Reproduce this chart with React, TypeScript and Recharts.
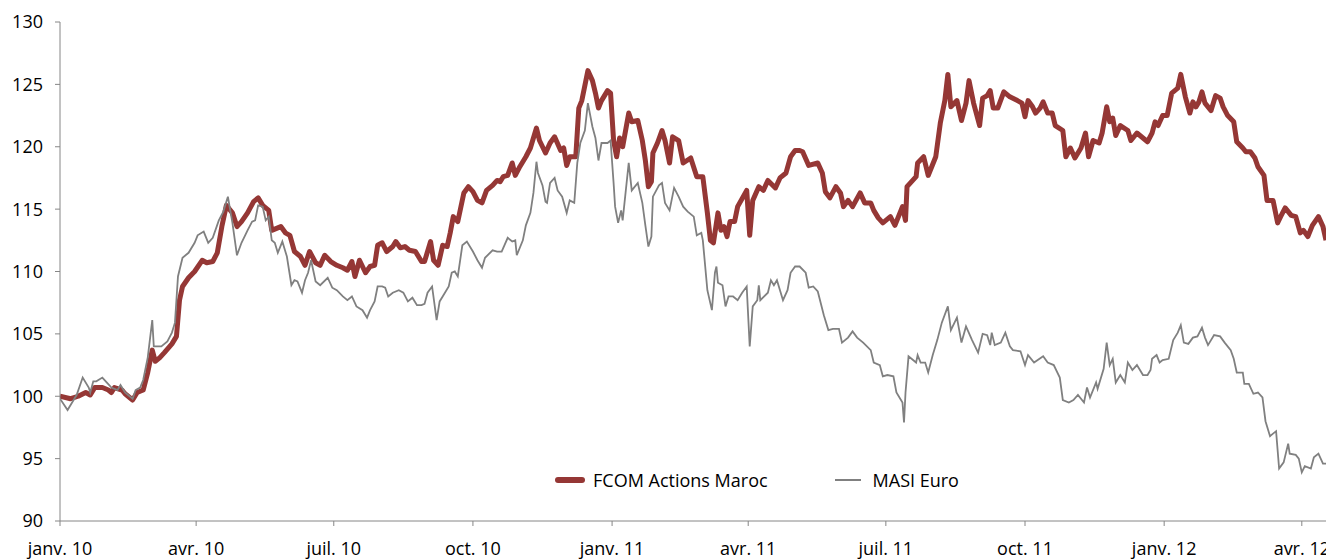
import React from 'react'
import { LineChart, Line, XAxis, YAxis, Legend } from 'recharts'

// jours écoulés depuis le 1er janvier 2010
const fcomDays = [0, 7, 12, 17, 20, 23, 28, 32, 34, 36, 41, 43, 46, 48, 51, 55, 58, 61, 63, 66, 69, 74, 77, 79, 81, 85, 89, 94, 97, 101, 104, 107, 110, 114, 117, 120, 124, 128, 131, 134, 138, 140, 144, 146, 149, 152, 155, 159, 162, 165, 169, 172, 175, 179, 183, 187, 190, 193, 195, 198, 202, 205, 208, 210, 213, 216, 220, 222, 225, 228, 231, 235, 239, 241, 245, 247, 250, 253, 256, 258, 260, 263, 267, 270, 273, 276, 279, 282, 286, 289, 291, 293, 296, 299, 301, 304, 308, 311, 315, 317, 321, 324, 327, 331, 333, 335, 337, 341, 343, 345, 349, 352, 354, 356, 358, 362, 364, 366, 368, 370, 372, 376, 378, 382, 385, 387, 389, 391, 392, 395, 398, 400, 403, 405, 409, 412, 417, 421, 425, 428, 430, 432, 435, 437, 439, 441, 443, 446, 448, 454, 456, 458, 462, 465, 468, 473, 476, 480, 483, 486, 489, 491, 495, 501, 504, 506, 509, 513, 516, 518, 521, 524, 529, 532, 536, 538, 541, 544, 549, 552, 557, 559, 560, 566, 567, 571, 574, 579, 582, 585, 587, 589, 593, 596, 599, 601, 604, 608, 610, 613, 615, 617, 620, 624, 628, 633, 636, 638, 640, 643, 645, 648, 650, 653, 656, 658, 663, 665, 668, 671, 675, 678, 680, 683, 687, 689, 692, 694, 696, 698, 701, 706, 708, 712, 716, 719, 722, 724, 726, 729, 732, 735, 739, 741, 744, 747, 749, 751, 753, 755, 757, 761, 764, 767, 769, 772, 776, 778, 782, 784, 787, 790, 792, 796, 798, 802, 805, 807, 810, 814, 817, 820, 822, 825, 828, 832, 835, 837]
const fcomValues = [100.0, 99.8, 100.0, 100.3, 100.1, 100.7, 100.7, 100.5, 100.3, 100.7, 100.5, 100.2, 99.9, 99.7, 100.3, 100.5, 101.9, 103.7, 102.8, 103.1, 103.5, 104.2, 104.8, 107.7, 108.8, 109.5, 110.0, 110.9, 110.7, 110.8, 111.5, 113.6, 115.3, 114.7, 113.6, 114.0, 114.7, 115.6, 115.9, 115.3, 114.9, 113.3, 113.5, 113.6, 113.1, 112.9, 111.6, 111.2, 110.5, 111.6, 110.7, 110.5, 111.3, 110.8, 110.5, 110.3, 110.1, 110.8, 109.6, 110.9, 109.9, 110.4, 110.5, 112.1, 112.3, 111.6, 112.0, 112.4, 111.9, 112.0, 111.7, 111.6, 110.8, 110.8, 112.4, 110.9, 110.5, 112.1, 112.0, 113.1, 114.4, 114.0, 116.3, 116.8, 116.4, 115.7, 115.5, 116.5, 116.9, 117.3, 117.2, 117.6, 117.7, 118.7, 117.7, 118.4, 119.2, 119.9, 121.5, 120.5, 119.5, 120.3, 120.8, 119.7, 119.9, 118.5, 119.2, 119.2, 123.1, 123.7, 126.1, 125.3, 124.3, 123.1, 123.7, 124.5, 124.3, 120.5, 119.2, 120.7, 120.0, 122.7, 122.0, 122.1, 120.5, 118.9, 116.8, 117.2, 119.5, 120.3, 121.3, 120.5, 118.7, 120.8, 120.5, 118.7, 119.1, 117.6, 117.6, 114.7, 112.5, 112.3, 114.7, 113.3, 113.6, 112.8, 114.0, 114.0, 115.2, 116.5, 112.9, 115.7, 116.8, 116.5, 117.3, 116.7, 117.5, 117.9, 119.2, 119.7, 119.7, 119.6, 118.5, 118.7, 117.9, 116.4, 115.9, 116.8, 116.3, 115.2, 115.7, 115.2, 116.3, 115.5, 115.5, 114.9, 114.3, 113.9, 114.4, 113.7, 115.2, 114.1, 116.8, 117.6, 118.7, 119.2, 117.7, 119.2, 121.9, 123.7, 125.8, 123.2, 123.7, 122.1, 123.5, 125.3, 123.5, 121.7, 123.9, 124.1, 124.5, 123.1, 123.1, 124.4, 124.0, 123.7, 123.5, 122.4, 123.7, 123.2, 122.7, 123.1, 123.6, 122.7, 122.7, 121.7, 121.3, 119.2, 119.9, 119.1, 119.9, 121.1, 119.2, 120.5, 120.3, 121.1, 123.2, 122.0, 122.3, 120.9, 121.7, 121.3, 120.5, 121.1, 120.7, 120.4, 121.1, 122.0, 121.7, 122.5, 122.5, 124.3, 124.7, 125.8, 124.0, 122.7, 123.6, 123.2, 123.6, 124.4, 123.5, 122.9, 124.1, 123.9, 123.2, 122.5, 122.0, 120.4, 119.9, 119.6, 119.6, 119.1, 118.4, 117.7, 115.7, 115.7, 113.9, 114.4, 115.1, 114.5, 114.4, 113.1, 113.3, 112.8, 113.7, 114.4, 113.6, 112.5]

const masiDays = [0, 5, 8, 11, 15, 19, 20, 22, 24, 28, 31, 34, 38, 40, 43, 48, 50, 53, 55, 58, 61, 62, 67, 71, 74, 76, 78, 81, 85, 89, 91, 95, 98, 101, 105, 108, 111, 114, 117, 120, 124, 127, 129, 131, 134, 136, 138, 140, 142, 144, 147, 150, 153, 155, 157, 160, 162, 164, 166, 169, 172, 177, 180, 183, 187, 190, 193, 196, 200, 203, 205, 208, 210, 213, 215, 217, 220, 224, 227, 230, 233, 236, 239, 241, 243, 246, 247, 249, 251, 253, 257, 259, 261, 263, 266, 269, 273, 276, 279, 281, 286, 289, 292, 296, 299, 301, 302, 306, 308, 311, 313, 315, 316, 319, 321, 322, 324, 327, 329, 332, 335, 337, 340, 342, 344, 347, 349, 352, 354, 356, 358, 362, 364, 366, 367, 369, 371, 372, 376, 378, 382, 385, 387, 389, 391, 392, 396, 398, 400, 403, 406, 409, 412, 415, 419, 421, 424, 425, 428, 431, 433, 434, 435, 438, 440, 442, 445, 448, 451, 454, 456, 458, 461, 462, 463, 468, 470, 472, 474, 478, 481, 483, 486, 489, 493, 495, 498, 501, 505, 508, 511, 515, 517, 521, 524, 527, 531, 536, 538, 542, 544, 547, 551, 553, 557, 558, 559, 561, 566, 567, 569, 572, 574, 577, 580, 583, 587, 589, 593, 596, 599, 603, 607, 610, 613, 615, 616, 618, 622, 625, 628, 630, 635, 638, 640, 644, 650, 653, 657, 661, 663, 667, 670, 673, 677, 679, 681, 685, 686, 690, 692, 694, 696, 698, 701, 704, 706, 709, 712, 716, 719, 721, 722, 725, 727, 729, 733, 736, 739, 741, 743, 746, 749, 752, 755, 757, 759, 763, 767, 770, 774, 776, 778, 782, 783, 786, 789, 792, 795, 797, 800, 804, 806, 809, 812, 813, 817, 819, 821, 823, 827, 829, 832, 835, 837]
const masiValues = [99.8, 98.9, 99.5, 100.1, 101.5, 100.7, 100.3, 101.2, 101.2, 101.5, 101.1, 100.7, 100.5, 100.9, 100.3, 99.8, 100.5, 100.7, 101.3, 103.1, 106.1, 104.0, 104.0, 104.4, 105.1, 105.9, 109.6, 111.1, 111.5, 112.3, 112.9, 113.2, 112.3, 112.7, 114.1, 114.8, 116.0, 113.9, 111.3, 112.3, 113.3, 114.0, 114.1, 115.3, 115.2, 114.1, 114.4, 112.5, 112.3, 111.5, 112.4, 111.2, 108.9, 109.3, 109.2, 108.3, 109.3, 109.9, 110.9, 109.2, 108.9, 109.5, 108.7, 108.5, 108.0, 107.7, 108.0, 107.2, 106.9, 106.3, 106.9, 107.6, 108.8, 108.8, 108.7, 108.0, 108.3, 108.5, 108.3, 107.6, 107.9, 107.3, 107.3, 107.4, 108.3, 108.8, 107.9, 106.1, 107.6, 108.0, 108.8, 109.9, 110.0, 109.6, 112.1, 112.4, 111.6, 110.9, 110.3, 111.1, 111.7, 111.6, 111.6, 112.7, 112.4, 112.5, 111.3, 112.5, 113.7, 114.7, 116.3, 118.8, 117.9, 116.9, 115.6, 115.5, 117.1, 117.5, 116.5, 116.0, 114.7, 115.7, 115.5, 118.7, 120.3, 121.3, 123.5, 121.6, 120.7, 118.9, 120.3, 120.3, 120.5, 117.1, 115.2, 113.9, 114.9, 114.1, 118.7, 116.5, 117.1, 115.5, 113.7, 112.0, 112.8, 116.0, 116.9, 117.1, 115.5, 114.9, 116.7, 116.0, 115.2, 114.8, 114.4, 112.9, 113.1, 112.5, 108.5, 106.9, 109.9, 110.4, 109.1, 108.9, 107.2, 108.0, 108.0, 107.7, 108.3, 108.8, 104.0, 107.2, 107.7, 108.9, 107.7, 108.3, 109.3, 108.9, 109.3, 107.7, 108.5, 109.9, 110.4, 110.4, 109.9, 108.7, 108.8, 108.4, 106.5, 105.3, 105.4, 105.4, 104.3, 104.7, 105.2, 104.7, 104.3, 103.7, 102.7, 102.5, 101.6, 101.7, 101.6, 100.3, 99.5, 97.9, 100.3, 103.2, 102.7, 103.3, 102.7, 102.7, 101.9, 103.3, 104.5, 105.9, 107.2, 105.3, 106.3, 104.3, 105.6, 104.5, 103.5, 105.0, 104.9, 104.1, 105.1, 104.1, 104.3, 105.1, 104.0, 103.7, 103.6, 102.5, 103.3, 102.7, 103.2, 102.7, 102.5, 101.5, 99.7, 99.5, 99.7, 100.1, 99.5, 100.7, 99.9, 101.1, 100.6, 102.2, 104.3, 102.5, 103.0, 101.1, 101.7, 101.1, 102.7, 102.1, 102.5, 101.7, 101.7, 102.1, 103.0, 103.3, 102.7, 102.9, 103.0, 104.5, 105.1, 105.7, 104.3, 104.2, 104.7, 104.8, 105.5, 104.7, 104.1, 104.9, 104.8, 104.3, 103.7, 103.0, 101.9, 101.9, 101.0, 101.0, 100.2, 100.3, 99.9, 98.0, 96.8, 97.2, 94.2, 94.7, 96.2, 95.4, 95.3, 95.0, 93.9, 94.4, 94.2, 95.1, 95.4, 94.6, 94.6]

const quarterDays = [0, 90, 181, 273, 365, 455, 546, 638, 730, 821]
const quarterLabels = ['janv. 10', 'avr. 10', 'juil. 10', 'oct. 10', 'janv. 11', 'avr. 11', 'juil. 11', 'oct. 11', 'janv. 12', 'avr. 12']
const yTicks = [90, 95, 100, 105, 110, 115, 120, 125, 130]

const RED = '#953735'
const GREY = '#808080'
const AXIS = '#868686'
const FONT = '"Open Sans", sans-serif'

const fcomData = fcomDays.map((day, i) => ({ day, value: fcomValues[i] }))
const masiData = masiDays.map((day, i) => ({ day, value: masiValues[i] }))

const renderLegend = () => (
  <div style={{ display: 'flex', alignItems: 'center', fontFamily: FONT, fontSize: 18, color: '#000', lineHeight: '24px', whiteSpace: 'nowrap' }}>
    <span style={{ display: 'inline-block', width: 30, height: 6, borderRadius: 3, background: RED, marginRight: 8 }} />
    <span>FCOM Actions Maroc</span>
    <span style={{ display: 'inline-block', width: 26, height: 2, background: GREY, marginLeft: 67, marginRight: 12 }} />
    <span>MASI Euro</span>
  </div>
)

const App = () => {
  return (
    <div style={{ position: 'absolute', left: 0, top: 0 }}>
      <LineChart width={1326} height={559} margin={{ top: 22, right: 0, bottom: 0, left: 0 }}>
        <XAxis
          type="number"
          dataKey="day"
          domain={[0, 837]}
          allowDataOverflow
          ticks={quarterDays}
          interval={0}
          tickFormatter={(d: number) => quarterLabels[quarterDays.indexOf(d)]}
          height={38}
          tickSize={5}
          tickMargin={16}
          stroke={AXIS}
          tick={{ fill: '#000', fontSize: 18, fontFamily: FONT }}
        />
        <YAxis
          type="number"
          domain={[90, 130]}
          ticks={yTicks}
          interval={0}
          width={60}
          tickSize={5}
          tickMargin={12}
          stroke={AXIS}
          tick={{ fill: '#000', fontSize: 18, fontFamily: FONT }}
        />
        <Legend
          content={renderLegend}
          layout="horizontal"
          verticalAlign="middle"
          align="center"
          wrapperStyle={{ left: 555, top: 468, width: 'auto' }}
        />
        <Line
          data={fcomData}
          dataKey="value"
          name="FCOM Actions Maroc"
          type="linear"
          stroke={RED}
          strokeWidth={5}
          strokeLinejoin="round"
          dot={false}
          isAnimationActive={false}
        />
        <Line
          data={masiData}
          dataKey="value"
          name="MASI Euro"
          type="linear"
          stroke={GREY}
          strokeWidth={1.8}
          dot={false}
          isAnimationActive={false}
        />
      </LineChart>
    </div>
  )
}

export default App
